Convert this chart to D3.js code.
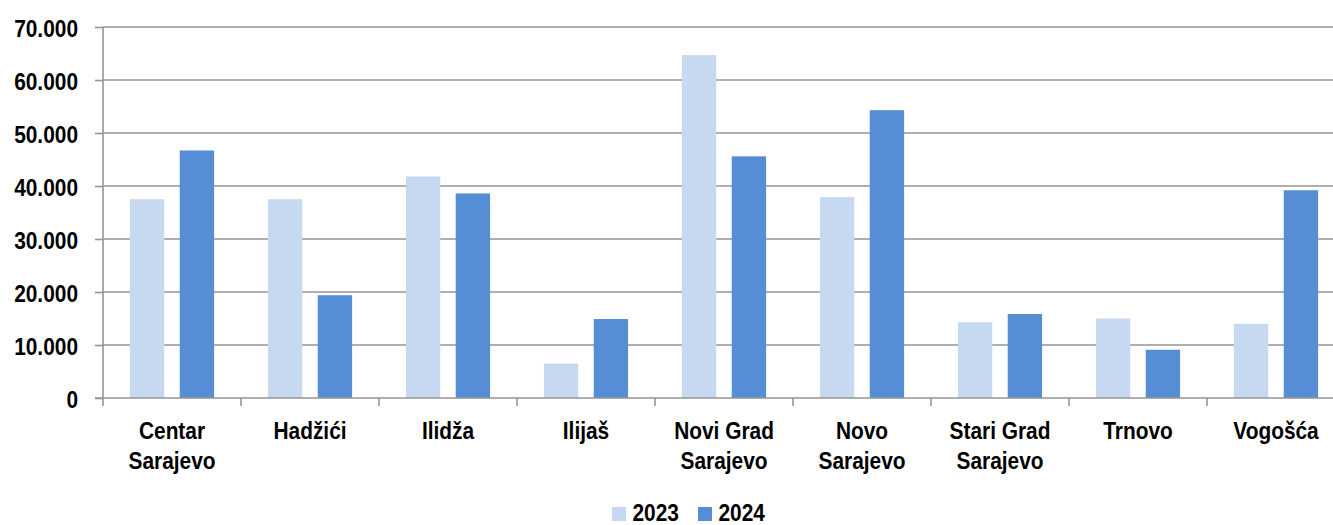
<!DOCTYPE html>
<html>
<head>
<meta charset="utf-8">
<script src="https://cdn.jsdelivr.net/npm/d3@7"></script>
<style>
  html, body { margin: 0; padding: 0; background: #fff; }
  svg { display: block; }
  text { font-family: "Liberation Sans", Arial, sans-serif; font-weight: bold; fill: #000; }
</style>
</head>
<body>
<svg id="chart" width="1333" height="525"></svg>
<script>
const categories = ["Centar Sarajevo", "Hadžići", "Ilidža", "Ilijaš", "Novi Grad Sarajevo", "Novo Sarajevo", "Stari Grad Sarajevo", "Trnovo", "Vogošća"];
const seriesNames = ["2023", "2024"];
const values2023 = [37500, 37500, 41800, 6500, 64700, 37900, 14300, 15000, 14000];
const values2024 = [46700, 19400, 38600, 14900, 45600, 54300, 15850, 9100, 39200];
const yTicks = [0, 10000, 20000, 30000, 40000, 50000, 60000, 70000];
const colors = ["#C6D9F1", "#558ED5"];

(function () {
const svg = d3.select("#chart");
const W = 1333;
const mLeft = 103, mTop = 27, mBottom = 398;
const step = 138;
const xScale = d3.scaleBand().domain(categories).range([mLeft, mLeft + step * categories.length]).padding(0);
const x1 = d3.scaleBand().domain(seriesNames).range([0, xScale.bandwidth()]).paddingInner(0.31).paddingOuter(0.54);
const yScale = d3.scaleLinear().domain([0, 70000]).range([mBottom, mTop]);
const fmt = d3.formatLocale({decimal: ",", thousands: ".", grouping: [3], currency: ["", ""]}).format(",");
const SX = 0.87;

// gridlines
svg.append("g").selectAll("line").data(yTicks.filter(d => d > 0)).join("line")
  .attr("x1", mLeft).attr("x2", W)
  .attr("y1", d => yScale(d)).attr("y2", d => yScale(d))
  .attr("stroke", "#959595").attr("stroke-width", 1.6);

// bars
const data = categories.map((c, i) => ({cat: c, vals: [values2023[i], values2024[i]]}));
const groups = svg.append("g").selectAll("g").data(data).join("g")
  .attr("transform", d => `translate(${xScale(d.cat)},0)`);
groups.selectAll("rect").data(d => d.vals.map((v, j) => ({key: seriesNames[j], v, j}))).join("rect")
  .attr("x", d => x1(d.key))
  .attr("width", x1.bandwidth())
  .attr("y", d => yScale(d.v))
  .attr("height", d => mBottom - yScale(d.v))
  .attr("fill", d => colors[d.j]);

// y axis
const yAxis = svg.append("g").attr("transform", `translate(${mLeft},0)`)
  .call(d3.axisLeft(yScale).tickValues(yTicks).tickSize(8).tickFormat(fmt));
yAxis.select(".domain").attr("stroke", "#959595").attr("stroke-width", 1.6).attr("d", `M0,${mTop}V${mBottom}`);
yAxis.selectAll(".tick line").attr("stroke", "#959595").attr("stroke-width", 1.6);
yAxis.selectAll(".tick text")
  .attr("x", 0).attr("dy", null).attr("y", 9.5)
  .attr("transform", `translate(-25,0) scale(${SX},1)`)
  .style("font-size", "24px").style("font-family", "'Liberation Sans', Arial, sans-serif")
  .style("font-weight", "bold").attr("fill", "#000");

// x axis
const xAxis = svg.append("g").attr("transform", `translate(0,${mBottom})`);
xAxis.append("line").attr("x1", mLeft - 8).attr("x2", W).attr("y1", 0).attr("y2", 0)
  .attr("stroke", "#959595").attr("stroke-width", 1.6);
const boundaries = categories.map(c => xScale(c));
xAxis.selectAll("line.tk").data(boundaries).join("line").attr("class", "tk")
  .attr("x1", d => d).attr("x2", d => d).attr("y1", 0).attr("y2", 8)
  .attr("stroke", "#959595").attr("stroke-width", 1.6);

const labels = svg.append("g").selectAll("text").data(categories).join("text")
  .attr("transform", d => `translate(${xScale(d) + xScale.bandwidth() / 2},439) scale(${SX},1)`)
  .attr("text-anchor", "middle").style("font-size", "24px");
labels.each(function(d) {
  const lines = d.replace(/ Sarajevo$/, "\nSarajevo").split("\n");
  const t = d3.select(this);
  lines.forEach((ln, i) => t.append("tspan").attr("x", 0).attr("y", i * 30).text(ln));
});

// legend
const legendX = [612, 698];
const lg = svg.append("g").selectAll("g").data(seriesNames).join("g")
  .attr("transform", (d, i) => `translate(${legendX[i]},0)`);
lg.append("rect").attr("x", 0).attr("y", 507).attr("width", 14).attr("height", 14)
  .attr("fill", (d, i) => colors[i]);
lg.append("text").attr("transform", `translate(20.5,521) scale(${SX},1)`)
  .style("font-size", "24px").text(d => d);
})();
</script>
</body>
</html>
